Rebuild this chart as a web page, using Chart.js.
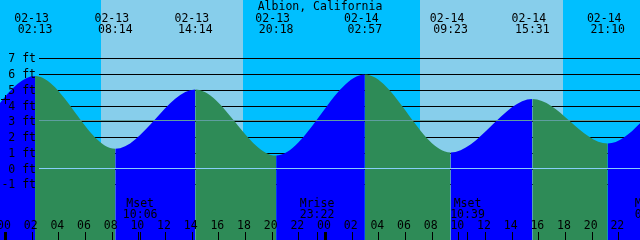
<!DOCTYPE html>
<html><head><meta charset="utf-8">
<script src="https://cdn.jsdelivr.net/npm/chart.js@4"></script>
<style>html,body{margin:0;padding:0;background:#00BFFF;overflow:hidden}canvas{display:block}</style>
</head><body>
<canvas id="c" width="640" height="240"></canvas>
<script>
// ---------- data ----------
const stationName = 'Albion, California';
// tide extremes (first and last two are just off the picture)
const tideDates   = ['02-12','02-12','02-13','02-13','02-13','02-13','02-14','02-14','02-14','02-14','02-15','02-15'];
const tideClock   = ['13:30','19:45','02:13','08:14','14:14','20:18','02:57','09:23','15:31','21:10','03:40','10:05'];
const tideHeights = [5.2, 1.14, 5.88, 1.26, 5.03, 0.83, 5.97, 1.02, 4.42, 1.59, 5.70, 0.9];
// sun
const sunDates     = ['02-13','02-14'];
const sunriseClock = ['07:10','07:06'];
const sunsetClock  = ['17:49','17:49'];
// moon
const moonKinds = ['Mset','Mrise','Mset','Mrise'];
const moonDates = ['02-13','02-13','02-14','02-15'];
const moonClock = ['10:06','23:22','10:39','00:30'];
// axis ticks
const hourTicks  = [0,2,4,6,8,10,12,14,16,18,20,22,24,26,28,30,32,34,36,38,40,42,44,46];
const hourLabels = ['00','02','04','06','08','10','12','14','16','18','20','22','00','02','04','06','08','10','12','14','16','18','20','22'];
const ftTicks  = [7,6,5,4,3,2,1,0,-1];
const ftLabels = ['7 ft','6 ft','5 ft','4 ft','3 ft','2 ft','1 ft','0 ft','-1 ft'];
const meanLevel = 3.05;
const datumLevel = 0;
const markLevel = 4.4;

// ---------- style ----------
const NIGHT = '#00BFFF', DAY = '#87CEEB', RISE = '#0000FF', FALL = '#2E8B57';
const MEAN_C = '#5F9EA0', DATUM_C = '#87CEFA';
const FONT = '11.5px "DejaVu Sans Mono"';

const toHours = (d, c) => {
  const day = parseInt(d.slice(3), 10);
  const [h, m] = c.split(':').map(Number);
  return (day - 13) * 24 + h + m / 60;
};
const tidePoints = tideDates.map((d, i) => ({x: toHours(d, tideClock[i]), y: tideHeights[i]}));

const tidePlugin = {
  id: 'tideDecor',
  beforeDatasetsDraw(chart) {
    const {ctx, scales: {x, y}, chartArea: a} = chart;
    ctx.save();
    ctx.fillStyle = NIGHT;
    ctx.fillRect(a.left, a.top, a.width, a.height);
    ctx.fillStyle = DAY;
    sunDates.forEach((d, i) => {
      const x0 = Math.round(x.getPixelForValue(toHours(d, sunriseClock[i])));
      const x1 = Math.round(x.getPixelForValue(toHours(d, sunsetClock[i])));
      ctx.fillRect(x0, a.top, x1 - x0, a.height);
    });
    ctx.fillStyle = '#000';
    ftTicks.forEach(v => {
      const py = Math.round(y.getPixelForValue(v));
      ctx.fillRect(39, py, a.right - 39, 1);
    });
    ctx.restore();
  },
  afterDatasetsDraw(chart) {
    const {ctx, scales: {x, y}, chartArea: a} = chart;
    ctx.save();
    // mean and datum lines
    ctx.fillStyle = MEAN_C;
    ctx.fillRect(39, Math.floor(y.getPixelForValue(meanLevel)), a.right - 39, 1);
    ctx.fillStyle = DATUM_C;
    ctx.fillRect(39, Math.floor(y.getPixelForValue(datumLevel)), a.right - 39, 1);

    ctx.fillStyle = '#000';
    ctx.font = FONT;
    ctx.textBaseline = 'alphabetic';
    // ft labels
    ctx.textAlign = 'right';
    ftTicks.forEach((v, i) => {
      ctx.fillText(ftLabels[i], 36, Math.round(y.getPixelForValue(v)) + 3.7);
    });
    // mark
    const my = Math.round(y.getPixelForValue(markLevel));
    ctx.fillRect(1, my, 9, 1);
    ctx.fillRect(5, my - 4, 1, 9);
    // title
    ctx.textAlign = 'center';
    ctx.fillText(stationName, 320, 10);
    // tide event labels
    tidePoints.forEach((p, i) => {
      const px = x.getPixelForValue(p.x);
      ctx.fillText(tideDates[i], px - 3.5, 21.5);
      ctx.fillText(tideClock[i], px, 33.3);
    });
    // moon labels and ticks
    moonKinds.forEach((k, i) => {
      const px = x.getPixelForValue(toHours(moonDates[i], moonClock[i]));
      ctx.fillText(k, px, 206.7);
      ctx.fillText(moonClock[i], px, 217.7);
      ctx.fillRect(Math.floor(px), 232, 1, 8);
    });
    // hour labels and ticks
    hourTicks.forEach((h, i) => {
      const px = x.getPixelForValue(h);
      ctx.fillText(hourLabels[i], px - 1.5, 229.3);
      if (h % 24 === 0) ctx.fillRect(Math.floor(px) - 1, 232, 3, 8);
      else ctx.fillRect(Math.floor(px), 232, 1, 8);
    });
    ctx.restore();
  }
};

new Chart(document.getElementById('c'), {
  type: 'line',
  data: {
    datasets: [{
      data: tidePoints,
      fill: 'start',
      backgroundColor: RISE,
      borderWidth: 0,
      borderColor: 'rgba(0,0,0,0)',
      pointRadius: 0,
      cubicInterpolationMode: 'monotone',
      segment: {
        backgroundColor: c => (c.p1.parsed.y > c.p0.parsed.y ? RISE : FALL)
      }
    }]
  },
  options: {
    responsive: false,
    animation: false,
    devicePixelRatio: 1,
    layout: {padding: 0},
    elements: {line: {capBezierPoints: false}},
    plugins: {legend: {display: false}, tooltip: {enabled: false}, title: {display: false}},
    scales: {
      x: {type: 'linear', display: false, min: -0.4125, max: 47.5875, bounds: 'data'},
      y: {type: 'linear', display: false, min: -4.5333, max: 10.7048, bounds: 'data'}
    }
  },
  plugins: [tidePlugin]
});
</script>
</body></html>
